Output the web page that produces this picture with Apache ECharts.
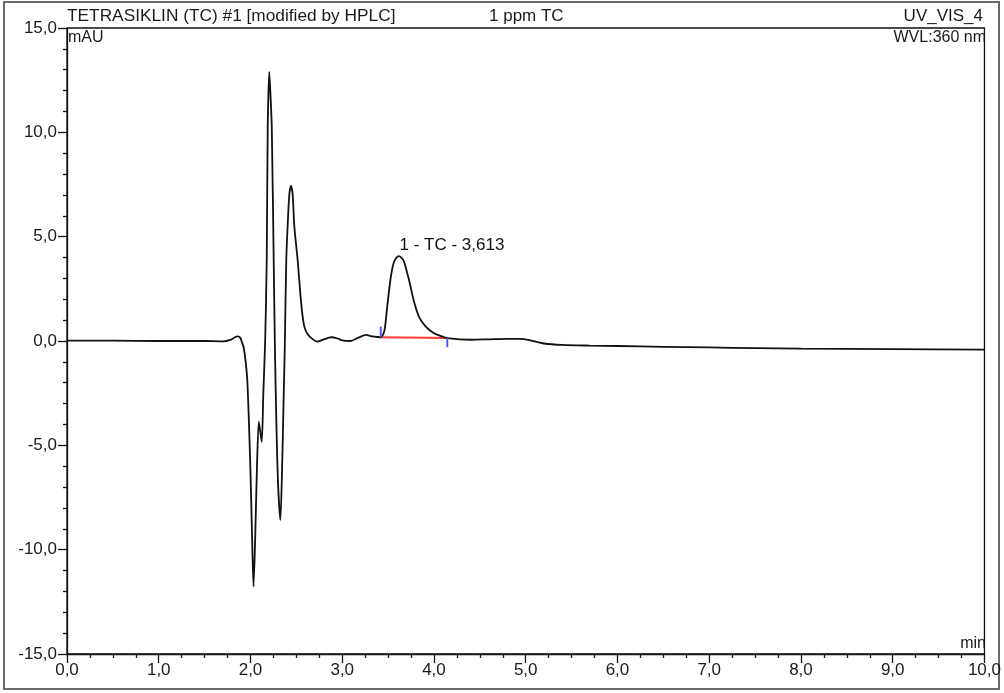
<!DOCTYPE html>
<html>
<head>
<meta charset="utf-8">
<script src="https://cdn.jsdelivr.net/npm/echarts@6/dist/echarts.min.js"></script>
<style>
  html, body { margin: 0; padding: 0; background: #fff; }
  #chart { width: 1004px; height: 693px; }
</style>
</head>
<body>
<div id="chart"></div>
<script>
// Retention time (min) and detector signal (mAU) of the chromatogram trace
const retentionTime = [
  0.0, 0.5, 1.0, 1.5, 1.7, 1.78, 1.83, 1.86, 1.89, 1.91, 1.925, 1.945, 1.964, 1.98,
  2.0, 2.018, 2.033, 2.051, 2.069, 2.09, 2.105, 2.123, 2.14, 2.16, 2.177, 2.188,
  2.205, 2.218, 2.232, 2.253, 2.265, 2.28, 2.30, 2.326, 2.345, 2.36, 2.375, 2.39,
  2.41, 2.425, 2.442, 2.46, 2.478, 2.514, 2.543, 2.565, 2.587, 2.62, 2.674, 2.73,
  2.80, 2.88, 2.95, 3.00, 3.09, 3.17, 3.26, 3.33, 3.42, 3.46, 3.49, 3.53, 3.565,
  3.612, 3.645, 3.674, 3.728, 3.783, 3.837, 3.91, 4.0, 4.07, 4.145, 4.4, 4.6, 4.8,
  4.95, 5.05, 5.2, 5.4, 5.7, 6.0, 6.5, 7.0, 7.5, 8.0, 9.0, 10.0
];
const signal = [
  0.02, 0.02, 0.0, 0.0, -0.02, 0.05, 0.18, 0.22, 0.15, -0.1, -0.3, -0.9, -1.8, -3.5,
  -6.3, -9.5, -11.77, -9.5, -6.3, -3.87, -4.3, -4.83, -2.5, 0.0, 3.88, 10.27,
  12.9, 11.8, 10.27, 3.88, 0.0, -3.5, -6.8, -8.58, -6.0, -3.0, 0.0, 3.88,
  6.0, 7.1, 7.43, 7.0, 5.48, 3.88, 2.28, 1.3, 0.69, 0.35, 0.1, -0.03,
  0.08, 0.18, 0.12, 0.03, 0.0, 0.15, 0.29, 0.22, 0.18, 0.5, 1.64, 3.08, 3.8,
  4.07, 4.0, 3.8, 2.92, 1.88, 1.16, 0.69, 0.37, 0.25, 0.14, 0.06, 0.08, 0.1,
  0.1, 0.03, -0.12, -0.19, -0.22, -0.24, -0.28, -0.31, -0.34, -0.37, -0.39, -0.41
];

// Integrated peak: apex, label, integration start/end
const peakApex = [3.613, 4.07];
const peakLabel = '1 - TC - 3,613';
const peakStart = [3.42, 0.18];
const peakEnd = [4.145, 0.14];
const startMarkTop = 0.69;
const endMarkBottom = -0.3;

// Axis ranges and tick steps
const xRange = [0, 10];
const xStep = 1;
const yRange = [-15, 15];
const yStep = 5;

const commaFmt = v => v.toFixed(1).replace('.', ',');
const FONT = '"Liberation Sans", Arial, sans-serif';
const TXT = '#1a1a1a';

const chart = echarts.init(document.getElementById('chart'), null, { renderer: 'canvas' });

chart.setOption({
  backgroundColor: '#fff',
  animation: false,
  textStyle: { fontFamily: FONT },
  grid: {
    left: 67, right: 17, top: 28, bottom: 39,
    show: true, borderColor: '#111', borderWidth: 1.3, backgroundColor: 'transparent'
  },
  xAxis: {
    type: 'value',
    min: xRange[0], max: xRange[1], interval: xStep,
    axisLine: { show: true, onZero: false, lineStyle: { color: '#111', width: 1.3 } },
    axisTick: { show: true, inside: false, length: 9, lineStyle: { color: '#111', width: 1.3 } },
    minorTick: { show: true, splitNumber: 4, length: 4, lineStyle: { color: '#111', width: 1.3 } },
    splitLine: { show: false },
    axisLabel: { formatter: commaFmt, color: TXT, fontSize: 17, fontFamily: FONT, margin: 8 }
  },
  yAxis: {
    type: 'value',
    min: yRange[0], max: yRange[1], interval: yStep,
    axisLine: { show: true, onZero: false, lineStyle: { color: '#111', width: 1.3 } },
    axisTick: { show: true, inside: false, length: 9, lineStyle: { color: '#111', width: 1.3 } },
    minorTick: { show: true, splitNumber: 5, length: 4, lineStyle: { color: '#111', width: 1.3 } },
    splitLine: { show: false },
    axisLabel: { formatter: commaFmt, color: TXT, fontSize: 17, fontFamily: FONT, margin: 10 }
  },
  series: [
    {
      type: 'line',
      name: 'UV_VIS_4',
      data: retentionTime.map((t, i) => [t, signal[i]]),
      showSymbol: false,
      smooth: 0.25,
      lineStyle: { color: '#111', width: 1.8 },
      z: 3
    },
    {
      type: 'line',
      name: 'baseline',
      data: [peakStart, peakEnd],
      showSymbol: false,
      lineStyle: { color: '#ff3a3a', width: 2 },
      z: 2
    },
    {
      type: 'line',
      name: 'start',
      data: [peakStart, [peakStart[0], startMarkTop]],
      showSymbol: false,
      lineStyle: { color: '#4a5cff', width: 2 },
      z: 4
    },
    {
      type: 'line',
      name: 'end',
      data: [peakEnd, [peakEnd[0], endMarkBottom]],
      showSymbol: false,
      lineStyle: { color: '#4a5cff', width: 2 },
      z: 4
    },
    {
      type: 'scatter',
      name: 'peak',
      data: [peakApex],
      symbolSize: 0,
      itemStyle: { opacity: 1 },
      label: {
        show: true,
        formatter: peakLabel,
        position: [1, -11],
        align: 'left',
        verticalAlign: 'middle',
        color: '#111',
        opacity: 1,
        textBorderWidth: 0,
        fontSize: 17,
        fontFamily: FONT
      },
      emphasis: { disabled: true },
      z: 5
    }
  ],
  graphic: [
    {
      type: 'rect', silent: true, z: -1,
      shape: { x: 4, y: 2, width: 995, height: 687 },
      style: { fill: 'none', stroke: '#6a6a6a', lineWidth: 2 }
    },
    { type: 'text', left: 67, top: 8, style: { text: 'TETRASIKLIN (TC) #1 [modified by HPLC]', font: '17.3px ' + FONT, fill: TXT } },
    { type: 'text', left: 489, top: 8, style: { text: '1 ppm TC', font: '17px ' + FONT, fill: TXT } },
    { type: 'text', right: 21, top: 8, style: { text: 'UV_VIS_4', font: '17px ' + FONT, fill: TXT } },
    { type: 'text', left: 68, top: 30, style: { text: 'mAU', font: '16px ' + FONT, fill: TXT } },
    { type: 'text', right: 18, top: 30, style: { text: 'WVL:360 nm', font: '16px ' + FONT, fill: TXT } },
    { type: 'text', right: 18, top: 636, style: { text: 'min', font: '16px ' + FONT, fill: TXT } }
  ]
});
</script>
</body>
</html>
